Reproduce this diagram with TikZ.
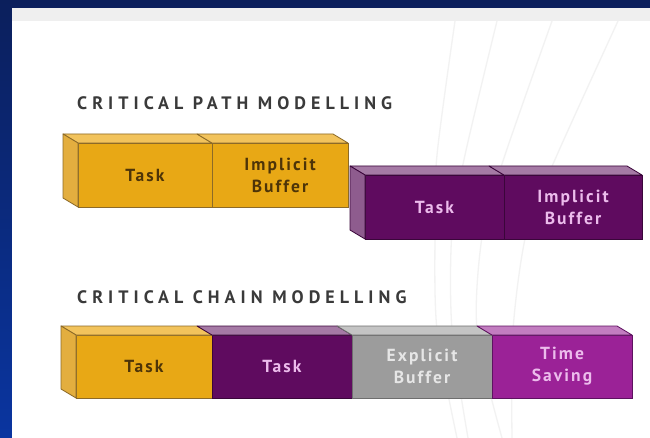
\documentclass[tikz,border=0pt]{standalone}
\usepackage{fontspec}
\setmainfont{PT Sans}
\usetikzlibrary{calc}
\definecolor{bluetop}{HTML}{0B1F5C}
\definecolor{bluebot}{HTML}{0A35A0}
\definecolor{stripgray}{HTML}{EFEFEF}
\definecolor{faint}{HTML}{F2F2F2}
\definecolor{orangeF}{HTML}{E8A815}
\definecolor{orangeT}{HTML}{F2C35C}
\definecolor{orangeL}{HTML}{E3AE3F}
\definecolor{orangeE}{HTML}{8C6A28}
\definecolor{purpF}{HTML}{5F0B5F}
\definecolor{purpT}{HTML}{A57AA5}
\definecolor{purpL}{HTML}{8E5C8E}
\definecolor{purpE}{HTML}{3A063A}
\definecolor{grayF}{HTML}{9C9C9C}
\definecolor{grayT}{HTML}{C4C4C4}
\definecolor{grayE}{HTML}{6E6E6E}
\definecolor{magF}{HTML}{9B2297}
\definecolor{magT}{HTML}{C27DC0}
\definecolor{magE}{HTML}{5E1260}
\definecolor{brownT}{HTML}{4D3408}
\definecolor{pinkT}{HTML}{ECBCEC}
\definecolor{lightT}{HTML}{E6E6E6}
\definecolor{titleC}{HTML}{3A3A3A}
\newcommand\drawtopface[3]{%
  \filldraw[fill=#2, draw=#3, line width=0.8pt, line join=round]
    (#1.north west) -- (#1.north east) -- ($(#1.north east)+(-15,-9)$)
    -- ($(#1.north west)+(-15,-9)$) -- cycle;}
\newcommand\drawleftface[3]{%
  \filldraw[fill=#2, draw=#3, line width=0.8pt, line join=round]
    (#1.north west) -- (#1.south west) -- ($(#1.south west)+(-15,-9)$)
    -- ($(#1.north west)+(-15,-9)$) -- cycle;}
\begin{document}
\begin{tikzpicture}[x=1pt,y=-1pt,
  title/.style={font=\bfseries\fontsize{18}{21}\selectfont\addfontfeature{LetterSpace=28}, text=titleC, anchor=west, inner sep=0pt},
  blk/.style={font=\bfseries\fontsize{17.5}{22}\selectfont\addfontfeature{LetterSpace=12}, align=center, inner sep=0pt, outer sep=0pt, minimum height=64pt, anchor=north west, line width=0.8pt},
  oblk/.style={blk, fill=orangeF, draw=orangeE, text=brownT},
  pblk/.style={blk, fill=purpF, draw=purpE, text=pinkT},
  gblk/.style={blk, fill=grayF, draw=grayE, text=lightT},
  mblk/.style={blk, fill=magF, draw=magE, text=pinkT},
  faintline/.style={draw=faint, line width=1.3pt}
]
\useasboundingbox (0,0) rectangle (650,438);
% background
\shade[top color=bluetop, bottom color=bluebot] (0,0) rectangle (650,438);
\fill[white] (12,8) rectangle (650,438);
\fill[stripgray] (12,8) rectangle (650,21);
% faint background lines
\draw[faintline] plot[smooth] coordinates {(455,21) (437,155) (435,230) (437,330) (457,438)};
\draw[faintline] plot[smooth] coordinates {(497,21) (465,155) (452,230) (452,330) (468,438)};
\draw[faintline] plot[smooth] coordinates {(552,21) (505,155) (483,230) (477,330) (502,438)};
\draw[faintline] plot[smooth] coordinates {(618,21) (557,155) (527,230) (513,330) (512,438)};
% titles
\node[title] (h1) at (77,103) {CRITICAL PATH MODELLING};
\node[title] (h2) at (77,297) {CRITICAL CHAIN MODELLING};
% row 1 purple (behind)
\node[pblk, minimum width=139pt] (p1) at (365,175) {Task};
\node[pblk, minimum width=138pt] (p2) at (504,175) {Implicit\\Buffer};
\drawtopface{p1}{purpT}{purpE}
\drawtopface{p2}{purpT}{purpE}
\drawleftface{p1}{purpL}{purpE}
% row 1 orange
\node[oblk, minimum width=134pt] (o1) at (78,143) {Task};
\node[oblk, minimum width=136pt] (o2) at (212,143) {Implicit\\Buffer};
\drawtopface{o1}{orangeT}{orangeE}
\drawtopface{o2}{orangeT}{orangeE}
\drawleftface{o1}{orangeL}{orangeE}
% row 2
\node[oblk, minimum width=136pt, minimum height=63pt] (c1) at (76,335) {Task};
\node[pblk, minimum width=140pt, minimum height=63pt] (c2) at (212,335) {Task};
\node[gblk, minimum width=140pt, minimum height=63pt] (c3) at (352,335) {Explicit\\Buffer};
\node[mblk, minimum width=140pt, minimum height=63pt] (c4) at (492,335) {Time\\Saving};
\drawtopface{c1}{orangeT}{orangeE}
\drawtopface{c2}{purpT}{purpE}
\drawtopface{c3}{grayT}{grayE}
\drawtopface{c4}{magT}{magE}
\drawleftface{c1}{orangeL}{orangeE}
\end{tikzpicture}
\end{document}
